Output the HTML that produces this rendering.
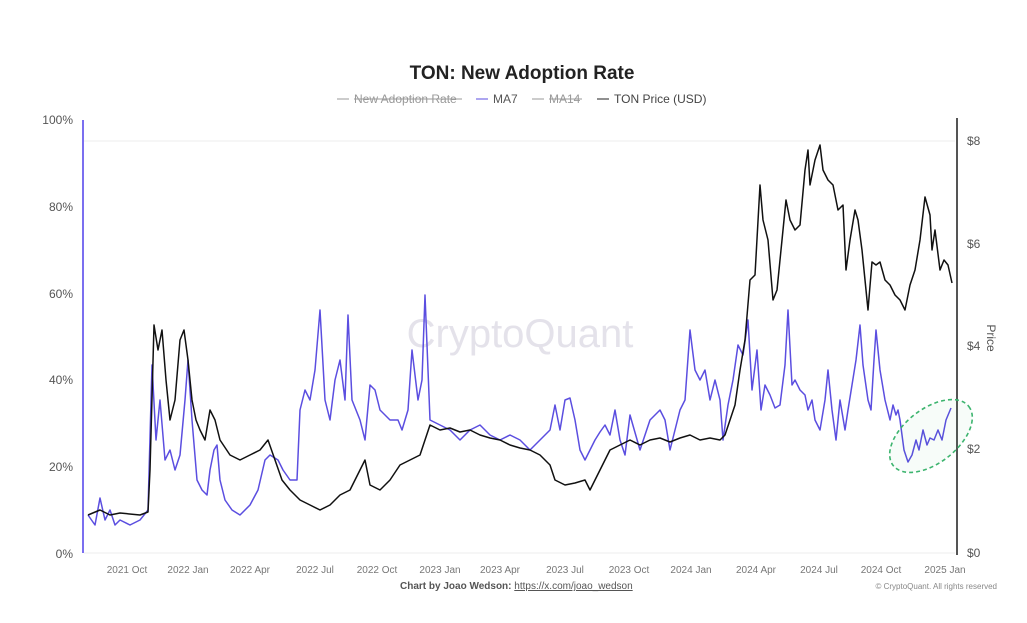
<!DOCTYPE html>
<html><head><meta charset="utf-8"><style>
body{margin:0;background:#fff;}
svg{display:block;font-family:"Liberation Sans",sans-serif;}
</style></head><body>
<svg width="1027" height="623" viewBox="0 0 1027 623" xmlns="http://www.w3.org/2000/svg">
<rect width="1027" height="623" fill="#fff"/>
<text x="522" y="79" text-anchor="middle" font-size="19" font-weight="bold" fill="#222">TON: New Adoption Rate</text>
<g font-size="12" fill="#999">
<line x1="337" y1="99" x2="349" y2="99" stroke="#999"/>
<text x="354" y="103" fill="#999">New Adoption Rate</text>
<line x1="354" y1="99" x2="462" y2="99" stroke="#999"/>
<line x1="476" y1="99" x2="488" y2="99" stroke="#5b4ee0"/>
<text x="493" y="103" fill="#555">MA7</text>
<line x1="532" y1="99" x2="544" y2="99" stroke="#999"/>
<text x="549" y="103">MA14</text>
<line x1="549" y1="99" x2="582" y2="99" stroke="#999"/>
<line x1="597" y1="99" x2="609" y2="99" stroke="#222"/>
<text x="614" y="103" fill="#444">TON Price (USD)</text>
</g>
<g stroke="#eee" stroke-width="1">
<line x1="84" y1="553" x2="955" y2="553"/>
<line x1="84" y1="141" x2="955" y2="141"/>
</g>
<text x="520" y="347" text-anchor="middle" font-size="40" fill="#e4e2ea">CryptoQuant</text>
<line x1="83" y1="120" x2="83" y2="553" stroke="#7b6ff0" stroke-width="2"/>
<line x1="957" y1="118" x2="957" y2="555" stroke="#555" stroke-width="2"/>
<g font-size="12" fill="#555" text-anchor="end">
<text x="73" y="124">100%</text><text x="73" y="211">80%</text><text x="73" y="298">60%</text>
<text x="73" y="384">40%</text><text x="73" y="471">20%</text><text x="73" y="558">0%</text>
</g>
<g font-size="12" fill="#555">
<text x="967" y="145">$8</text><text x="967" y="248">$6</text><text x="967" y="350">$4</text>
<text x="967" y="453">$2</text><text x="967" y="557">$0</text>
</g>
<text x="987" y="338" font-size="12" fill="#555" transform="rotate(90 987 338)" text-anchor="middle">Price</text>
<g font-size="10" fill="#777" text-anchor="middle">
<text x="127" y="573">2021 Oct</text><text x="188" y="573">2022 Jan</text><text x="250" y="573">2022 Apr</text>
<text x="315" y="573">2022 Jul</text><text x="377" y="573">2022 Oct</text><text x="440" y="573">2023 Jan</text>
<text x="500" y="573">2023 Apr</text><text x="565" y="573">2023 Jul</text><text x="629" y="573">2023 Oct</text>
<text x="691" y="573">2024 Jan</text><text x="756" y="573">2024 Apr</text><text x="819" y="573">2024 Jul</text>
<text x="881" y="573">2024 Oct</text><text x="945" y="573">2025 Jan</text>
</g>
<text x="400" y="589" font-size="10" font-weight="bold" fill="#555">Chart by Joao Wedson: <tspan font-weight="normal" text-decoration="underline">https://x.com/joao_wedson</tspan></text>
<text x="997" y="589" font-size="8" fill="#888" text-anchor="end">© CryptoQuant. All rights reserved</text>
<polyline fill="none" stroke="#5b4ee0" stroke-width="1.5" stroke-linejoin="round" points="88,515 95,525 100,498 105,520 110,510 115,525 120,520 130,525 140,520 148,510 152,365 156,440 160,400 165,460 170,450 175,470 180,455 185,400 188,360 192,420 197,480 202,490 207,495 210,470 214,450 217,445 220,480 225,500 232,510 240,515 250,505 258,490 265,460 270,455 278,460 283,470 290,480 297,480 300,410 305,390 310,400 315,370 320,310 325,400 330,420 335,380 340,360 345,400 348,315 352,400 360,420 365,440 370,385 375,390 380,410 390,420 398,420 402,430 408,410 412,350 418,400 422,380 425,295 430,420 440,425 450,430 460,440 470,430 480,425 490,435 500,440 510,435 520,440 530,450 540,440 550,430 555,405 560,430 565,400 570,398 575,420 580,450 585,460 590,450 595,440 600,432 605,425 610,435 615,410 620,440 625,455 630,415 640,450 650,420 660,410 665,420 670,450 680,410 685,400 690,330 695,370 700,380 705,370 710,400 715,380 720,400 723,440 728,405 733,380 738,345 743,355 748,320 752,390 757,350 761,410 765,385 770,395 775,408 780,405 785,365 788,310 792,385 795,380 800,390 805,395 808,410 812,400 815,420 820,430 825,400 828,370 832,410 836,440 840,400 845,430 848,410 852,385 856,360 860,325 863,365 868,400 871,410 874,360 876,330 880,370 885,400 890,420 893,405 896,415 898,410 900,420 904,450 908,462 912,455 916,440 919,450 923,430 927,445 930,438 934,440 938,430 942,440 946,420 951,408"/>
<polyline fill="none" stroke="#111" stroke-width="1.5" stroke-linejoin="round" points="88,515 100,510 110,515 120,513 140,515 148,512 150,470 154,325 158,350 162,330 166,380 170,420 175,400 180,340 184,330 188,360 192,400 196,420 200,430 205,440 210,410 215,420 220,440 230,455 240,460 250,455 260,450 268,440 275,460 282,480 290,490 300,500 310,505 320,510 330,505 340,495 350,490 360,470 365,460 370,485 380,490 390,480 400,465 410,460 420,455 430,425 440,430 450,428 460,432 470,430 480,435 490,438 500,440 510,445 520,448 530,450 540,455 550,465 555,480 565,485 575,483 585,480 590,490 595,480 600,470 605,460 610,450 620,445 630,440 640,445 650,440 660,438 670,442 680,438 690,435 700,440 710,438 720,440 725,435 730,420 735,405 740,370 745,340 750,280 755,275 760,185 763,220 768,240 773,300 777,290 782,240 786,200 790,220 795,230 800,225 805,170 808,150 810,185 815,160 820,145 823,170 828,180 833,185 838,210 843,205 846,270 850,240 855,210 858,220 862,250 865,280 868,310 872,262 876,265 880,262 885,280 890,285 895,295 900,300 905,310 910,285 915,270 920,240 925,197 930,215 932,250 935,230 940,270 944,260 948,265 952,283"/>
<ellipse cx="931" cy="436" rx="48" ry="27" transform="rotate(-38 931 436)" fill="rgba(60,180,100,0.04)" stroke="#3cb46e" stroke-width="1.6" stroke-dasharray="4,3"/>
</svg>
</body></html>
